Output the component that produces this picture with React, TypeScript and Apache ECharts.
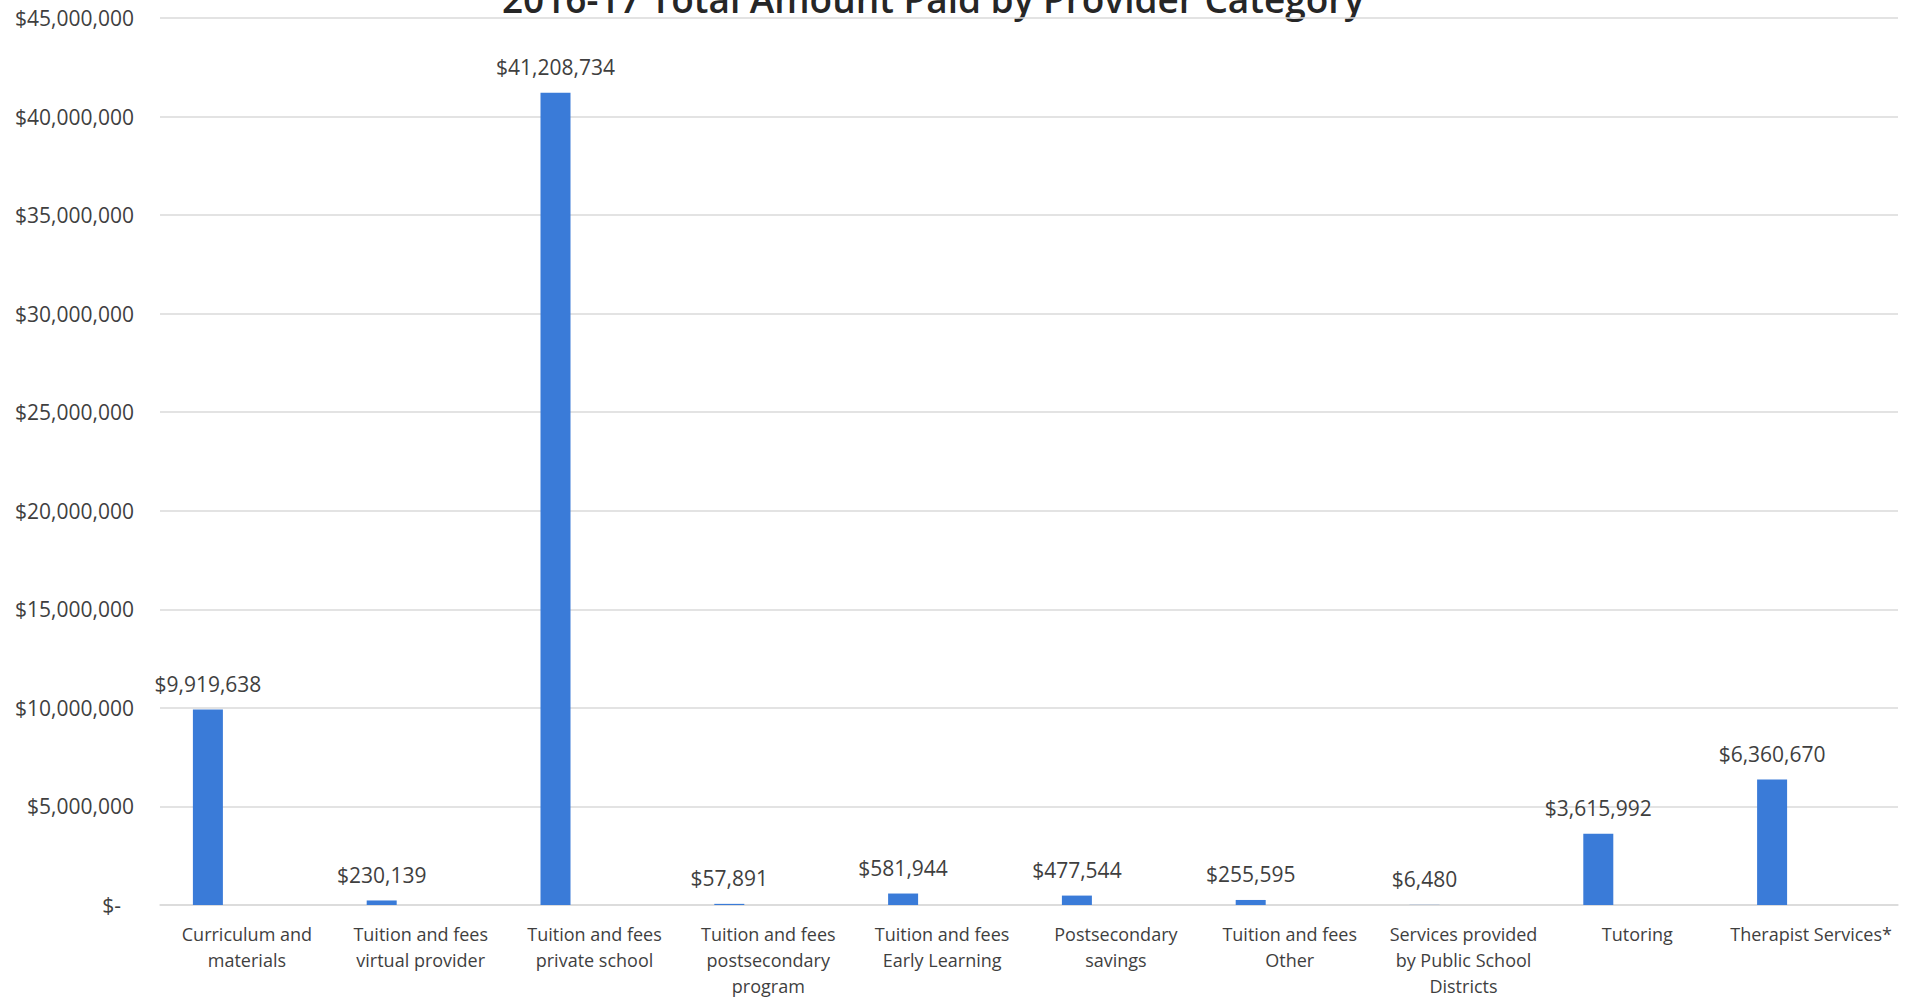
import React, { useEffect, useRef } from "react";
import * as echarts from "echarts";

const TITLE = "2016-17 Total Amount Paid by Provider Category";

const categories: string[] = [
  "Curriculum and\nmaterials",
  "Tuition and fees\nvirtual provider",
  "Tuition and fees\nprivate school",
  "Tuition and fees\npostsecondary\nprogram",
  "Tuition and fees\nEarly Learning",
  "Postsecondary\nsavings",
  "Tuition and fees\nOther",
  "Services provided\nby Public School\nDistricts",
  "Tutoring",
  "Therapist Services*",
];

const amountPaid: number[] = [
  9919638, 230139, 41208734, 57891, 581944, 477544, 255595, 6480, 3615992, 6360670,
];

const emptySeries: (number | null)[] = [null, null, null, null, null, null, null, null, null, null];

const Y_MIN = 0;
const Y_MAX = 45000000;
const Y_INTERVAL = 5000000;

const FONT = "'Open Sans', 'Noto Sans', sans-serif";
const TEXT_COLOR = "#3f3f3f";

function money(v: number): string {
  return "$" + v.toLocaleString("en-US");
}

export default function App() {
  const ref = useRef<HTMLDivElement>(null);

  useEffect(() => {
    if (!ref.current) return;
    const chart = echarts.init(ref.current, null, { renderer: "svg" });
    chart.setOption({
      animation: false,
      backgroundColor: "#ffffff",
      textStyle: { fontFamily: FONT },
      graphic: [
        {
          type: "text",
          x: 933,
          y: -2,
          style: {
            text: TITLE,
            textAlign: "center",
            textVerticalAlign: "middle",
            fontFamily: FONT,
            fontSize: 37,
            fontWeight: 600,
            fill: "#262626",
          },
        },
      ],
      grid: { left: 160, right: 14, top: 18, bottom: 93, containLabel: false },
      xAxis: {
        type: "category",
        data: categories,
        axisTick: { show: false },
        axisLine: { show: true, lineStyle: { color: "#dadada", width: 1.5 } },
        axisLabel: {
          interval: 0,
          color: TEXT_COLOR,
          fontFamily: FONT,
          fontSize: 18,
          lineHeight: 26,
          margin: 16,
          align: "center",
        },
      },
      yAxis: {
        type: "value",
        min: Y_MIN,
        max: Y_MAX,
        interval: Y_INTERVAL,
        axisLine: { show: false },
        axisTick: { show: false },
        splitLine: { show: true, lineStyle: { color: "#dadada", width: 1.5 } },
        axisLabel: {
          margin: 26,
          color: TEXT_COLOR,
          fontFamily: FONT,
          fontSize: 21,
          formatter: (v: number) => (v === 0 ? "{z|$-}" : money(v)),
          rich: {
            z: { padding: [0, 13, 0, 0], fontSize: 21, color: TEXT_COLOR, fontFamily: FONT },
          },
        },
      },
      series: [
        {
          name: "Amount Paid",
          type: "bar",
          data: amountPaid,
          barWidth: 30,
          barGap: "160%",
          itemStyle: { color: "#3a7bd8" },
          label: {
            show: true,
            position: "top",
            distance: 15,
            color: TEXT_COLOR,
            fontFamily: FONT,
            fontSize: 21,
            lineHeight: 21,
            formatter: (p: any) => money(p.value),
          },
        },
        {
          name: "Empty",
          type: "bar",
          data: emptySeries,
          barWidth: 30,
          barGap: "160%",
          itemStyle: { color: "#3a7bd8" },
        },
      ],
    });
    return () => chart.dispose();
  }, []);

  return (
    <div
      ref={ref}
      style={{ position: "absolute", left: 0, top: 0, width: 1912, height: 999 }}
    />
  );
}
